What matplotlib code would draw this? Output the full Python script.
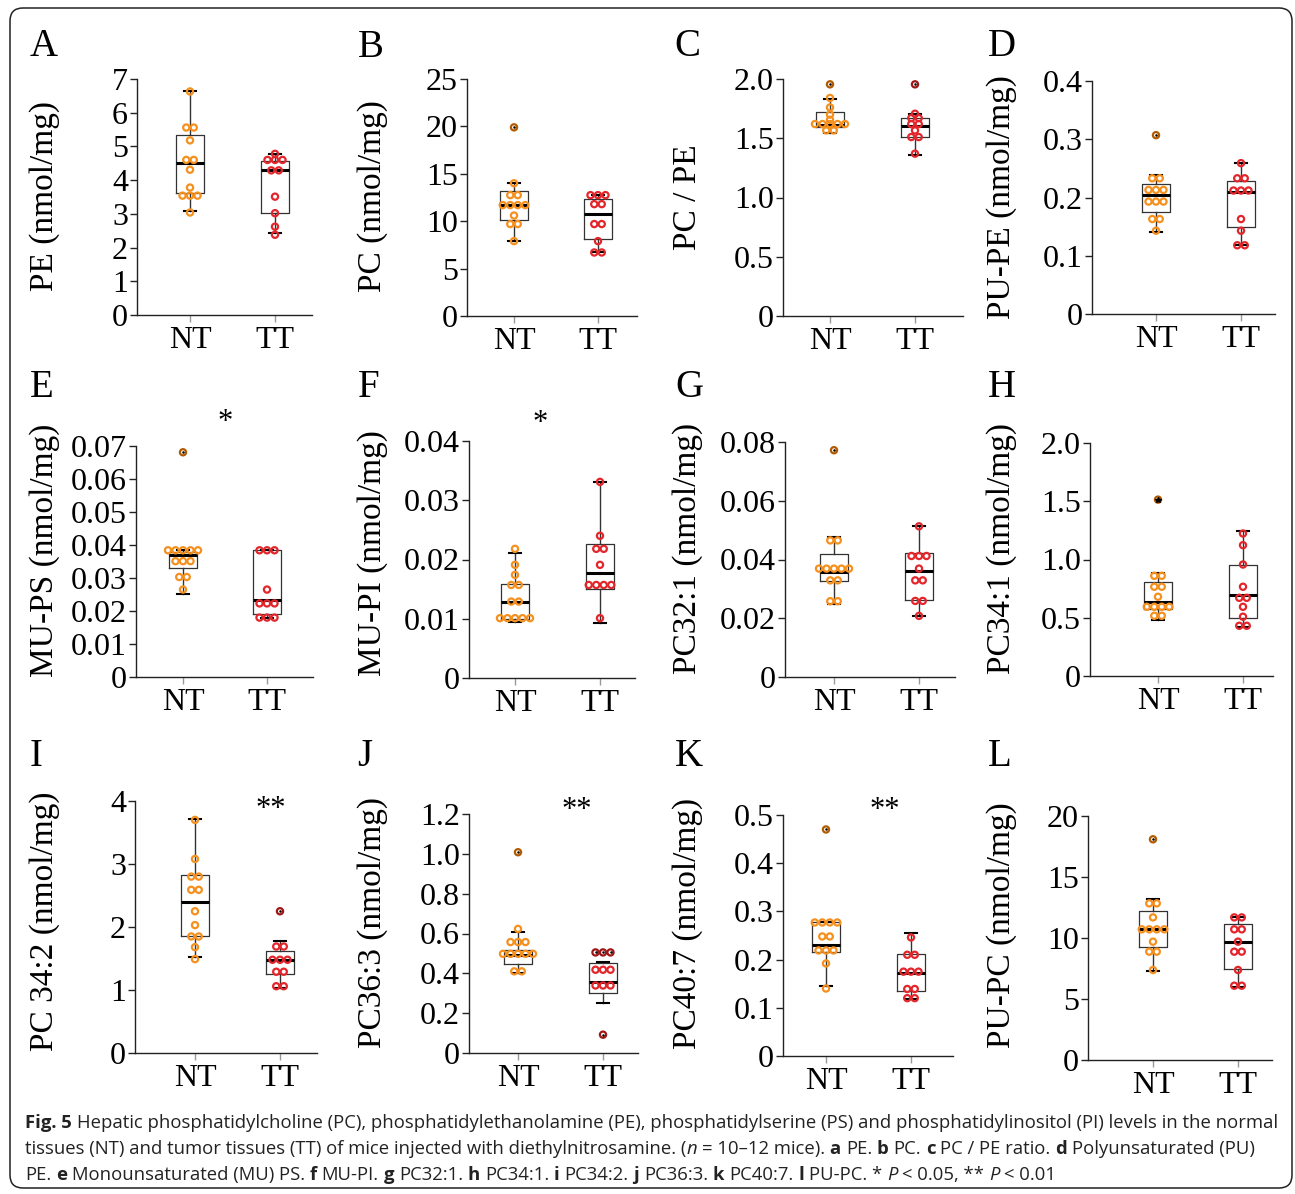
import numpy as np
import matplotlib.pyplot as plt
from matplotlib.patches import FancyBboxPatch

plt.rcParams['font.family'] = ['Liberation Serif', 'DejaVu Serif']

groups = ['NT', 'TT']
letters = list('ABCDEFGHIJKL')
ylabels = ['PE (nmol/mg)', 'PC (nmol/mg)', 'PC / PE', 'PU-PE (nmol/mg)',
           'MU-PS (nmol/mg)', 'MU-PI (nmol/mg)', 'PC32:1 (nmol/mg)', 'PC34:1 (nmol/mg)',
           'PC 34:2 (nmol/mg)', 'PC36:3 (nmol/mg)', 'PC40:7 (nmol/mg)', 'PU-PC (nmol/mg)']
ymax = [7, 25, 2.0, 0.4, 0.07, 0.04, 0.08, 2.0, 4, 1.2, 0.5, 20]
ystep = [1, 5, 0.5, 0.1, 0.01, 0.01, 0.02, 0.5, 1, 0.2, 0.1, 5]
ydec = [0, 0, 1, 1, 2, 2, 2, 1, 0, 1, 1, 0]
signif = ['', '', '', '', '*', '*', '', '', '**', '**', '**', '']
signif_x = [0, 0, 0, 0, 1.5, 1.29, 0, 0, 1.89, 1.69, 1.69, 0]
signif_y = [0, 0, 0, 0, 0.077, 0.043, 0, 0, 3.86, 1.22, 0.51, 0]

# points; box = [whisker low, q1, median, q3, whisker high]
pe_nt = [6.63, 5.56, 5.56, 5.18, 4.60, 4.60, 4.31, 3.78, 3.54, 3.54, 3.54, 3.04]
pe_tt = [4.78, 4.60, 4.60, 4.60, 4.29, 4.29, 3.51, 3.02, 2.62, 2.38]
pe_box = [[3.09, 3.61, 4.52, 5.35, 6.63], [2.43, 3.04, 4.29, 4.58, 4.78]]

pc_nt = [19.9, 14.0, 12.75, 12.75, 11.7, 11.7, 11.7, 11.7, 10.6, 9.7, 9.7, 7.9]
pc_tt = [12.75, 12.75, 12.75, 11.8, 11.8, 9.7, 9.7, 7.9, 6.7, 6.7]
pc_box = [[7.9, 10.1, 11.7, 13.2, 14.0], [6.7, 8.1, 10.8, 12.3, 12.75]]

ratio_nt = [1.955, 1.84, 1.76, 1.70, 1.656, 1.62, 1.62, 1.62, 1.62, 1.62, 1.566, 1.566]
ratio_tt = [1.955, 1.707, 1.67, 1.67, 1.62, 1.62, 1.566, 1.51, 1.51, 1.37]
ratio_box = [[1.545, 1.595, 1.61, 1.72, 1.83], [1.36, 1.51, 1.606, 1.67, 1.707]]

pupe_nt = [0.307, 0.233, 0.233, 0.213, 0.213, 0.213, 0.193, 0.193, 0.193, 0.163, 0.163, 0.143]
pupe_tt = [0.259, 0.233, 0.233, 0.212, 0.212, 0.212, 0.163, 0.143, 0.118, 0.118]
pupe_box = [[0.140, 0.175, 0.204, 0.224, 0.239], [0.118, 0.149, 0.209, 0.229, 0.259]]

mups_nt = [0.0681, 0.0384, 0.0384, 0.0384, 0.0384, 0.0384, 0.0351, 0.0351, 0.0351,
           0.0303, 0.0303, 0.0265]
mups_tt = [0.0384, 0.0384, 0.0384, 0.0265, 0.0223, 0.0223, 0.0223, 0.018, 0.018, 0.018]
mups_box = [[0.0251, 0.0329, 0.0369, 0.0379, 0.0384], [0.018, 0.0192, 0.0233, 0.0384, 0.0384]]

mupi_nt = [0.0218, 0.0191, 0.0174, 0.0157, 0.0157, 0.0129, 0.0129,
           0.0101, 0.0101, 0.0101, 0.0101, 0.0101]
mupi_tt = [0.0331, 0.024, 0.0218, 0.0218, 0.0191, 0.0157, 0.0157, 0.0157, 0.0157, 0.0101]
mupi_box = [[0.0095, 0.0099, 0.0128, 0.0158, 0.0211], [0.0093, 0.0151, 0.0177, 0.0226, 0.0331]]

pc321_nt = [0.0772, 0.0465, 0.0465, 0.0369, 0.0369, 0.0369, 0.0369, 0.0369,
            0.0329, 0.0329, 0.0258, 0.0258]
pc321_tt = [0.0513, 0.0412, 0.0412, 0.0412, 0.0369, 0.0329, 0.0329, 0.0259, 0.0259, 0.0208]
pc321_box = [[0.025, 0.0326, 0.0357, 0.042, 0.0477], [0.0208, 0.0261, 0.0361, 0.0423, 0.0513]]

pc341_nt = [1.514, 0.86, 0.86, 0.766, 0.766, 0.68, 0.594, 0.594, 0.594, 0.594, 0.517, 0.517]
pc341_tt = [1.223, 1.123, 0.957, 0.766, 0.671, 0.671, 0.594, 0.509, 0.431, 0.431]
pc341_box = [[0.48, 0.574, 0.637, 0.809, 0.88], [0.423, 0.50, 0.694, 0.957, 1.246]]

pc342_nt = [3.70, 3.08, 2.80, 2.80, 2.59, 2.59, 2.25, 2.03, 1.85, 1.85, 1.68, 1.49]
pc342_tt = [2.25, 1.69, 1.69, 1.48, 1.48, 1.48, 1.29, 1.29, 1.06, 1.06]
pc342_box = [[1.52, 1.86, 2.39, 2.82, 3.71], [1.03, 1.25, 1.47, 1.62, 1.77]]

pc363_nt = [1.008, 0.623, 0.557, 0.557, 0.557, 0.498, 0.498, 0.498, 0.498, 0.498, 0.41, 0.41]
pc363_tt = [0.505, 0.505, 0.505, 0.418, 0.418, 0.418, 0.339, 0.339, 0.339, 0.092]
pc363_box = [[0.40, 0.446, 0.493, 0.515, 0.61], [0.251, 0.301, 0.354, 0.451, 0.455]]

pc407_nt = [0.470, 0.277, 0.277, 0.277, 0.277, 0.248, 0.248, 0.219, 0.219, 0.219, 0.192, 0.140]
pc407_tt = [0.246, 0.210, 0.210, 0.175, 0.175, 0.175, 0.139, 0.139, 0.120, 0.120]
pc407_box = [[0.145, 0.215, 0.230, 0.277, 0.277], [0.118, 0.135, 0.173, 0.211, 0.256]]

pupc_nt = [18.09, 12.84, 12.84, 11.69, 10.71, 10.71, 10.71, 10.71, 9.70, 8.88, 8.88, 7.38]
pupc_tt = [11.69, 11.69, 10.71, 10.71, 9.70, 8.88, 8.88, 7.38, 6.09, 6.09]
pupc_box = [[7.32, 9.29, 10.71, 12.21, 13.2], [6.01, 7.49, 9.64, 11.12, 11.69]]

panels = [(pe_nt, pe_tt, pe_box), (pc_nt, pc_tt, pc_box), (ratio_nt, ratio_tt, ratio_box),
          (pupe_nt, pupe_tt, pupe_box), (mups_nt, mups_tt, mups_box),
          (mupi_nt, mupi_tt, mupi_box), (pc321_nt, pc321_tt, pc321_box),
          (pc341_nt, pc341_tt, pc341_box), (pc342_nt, pc342_tt, pc342_box),
          (pc363_nt, pc363_tt, pc363_box), (pc407_nt, pc407_tt, pc407_box),
          (pupc_nt, pupc_tt, pupc_box)]

# layout in pixels of the 1295x1194 picture
W, H = 1295, 1194
axes_px = [(137, 79, 312, 315), (467, 79, 637, 316), (783, 79, 963, 316), (1092, 81, 1275, 314),
           (136, 446, 313, 677), (469, 441, 635, 678), (785, 442, 955, 677), (1090, 443, 1273, 676),
           (135, 801, 317, 1053), (469, 814, 638, 1053), (783, 815, 953, 1056), (1088, 816, 1272, 1060)]
group_px = [(190, 275), (514, 598), (830, 915), (1156, 1241),
            (183, 267), (515, 600), (834, 919), (1158, 1243),
            (195, 280), (518, 603), (826, 911), (1153, 1238)]
letter_px = [(30, 56), (358, 57), (674, 56), (988, 56),
             (30, 397), (358, 397), (675, 397), (988, 397),
             (30, 766), (357, 766), (675, 766), (988, 766)]
ylabel_px = [(45, 196), (373, 196), (688, 197), (1002, 197),
             (45, 550), (373, 553), (688, 548), (1002, 548),
             (45, 921), (373, 923), (688, 923), (1002, 925)]
outlier_sym = ['.'] * 12
outlier_sym[7] = '*'

colors = ['#F5901E', '#E3262B']
dark = ['#B25A00', '#A01515']


def px_rect(l, t, r, b):
    return [l / W, 1 - b / H, (r - l) / W, (b - t) / H]


def swarm(vals, x0, dx):
    xs, ys, seen = [], [], []
    for v in vals:
        if v in seen:
            continue
        seen.append(v)
        n = vals.count(v)
        for i in range(n):
            xs.append(x0 + (i - (n - 1) / 2) * dx)
            ys.append(v)
    return np.array(xs), np.array(ys)


fig = plt.figure(figsize=(W / 100, H / 100), dpi=100)

frame = FancyBboxPatch((0.10, 0.06), 12.82, 11.80, boxstyle='round,pad=0,rounding_size=0.13',
                       transform=fig.dpi_scale_trans, fill=False, edgecolor='#222', linewidth=1.1)
fig.patches.append(frame)

for k in range(12):
    nt, tt, box = panels[k]
    l, t, r, b = axes_px[k]
    xn, xt = group_px[k]
    unit = xt - xn
    ax = fig.add_axes(px_rect(l, t, r, b))
    stats = [dict(whislo=s[0], q1=s[1], med=s[2], q3=s[3], whishi=s[4], fliers=[]) for s in box]
    ax.bxp(stats, positions=[1, 2], widths=0.33, capwidths=0.15, showfliers=False,
           manage_ticks=False,
           boxprops=dict(color='#333', linewidth=0.9),
           medianprops=dict(color='k', linewidth=2.2),
           whiskerprops=dict(color='#333', linewidth=1.0),
           capprops=dict(color='k', linewidth=1.5))
    tol = 0.03 * ymax[k]
    for gi, vals in enumerate((nt, tt)):
        xs, ys = swarm(vals, gi + 1, 7.5 / unit)
        lo, hi = box[gi][0], box[gi][4]
        out = (ys > hi + tol) | (ys < lo - tol)
        ax.scatter(xs[~out], ys[~out], s=20, facecolors='none', edgecolors=colors[gi],
                   linewidths=1.6, zorder=3)
        if out.any():
            ax.scatter(xs[out], ys[out], s=20, facecolors='none', edgecolors=dark[gi],
                       linewidths=1.6, zorder=3)
            ax.plot(xs[out], ys[out], outlier_sym[k], color='k',
                    ms=4 if outlier_sym[k] == '*' else 1.6, zorder=4)
    ax.set_xlim(1 - (xn - l) / unit, 2 + (r - xt) / unit)
    ax.set_ylim(0, ymax[k])
    n_ticks = int(round(ymax[k] / ystep[k])) + 1
    ticks = np.linspace(0, ymax[k], n_ticks)
    ax.set_yticks(ticks)
    ax.set_yticklabels(['0' if v == 0 else f'{v:.{ydec[k]}f}' for v in ticks])
    ax.set_xticks([1, 2])
    ax.set_xticklabels(groups)
    for side in ('top', 'right'):
        ax.spines[side].set_visible(False)
    for side in ('left', 'bottom'):
        ax.spines[side].set_linewidth(1.0)
        ax.spines[side].set_color('#222')
    ax.tick_params(axis='y', length=5, width=1.0, pad=1.5, labelsize=23, color='#222')
    ax.tick_params(axis='x', length=5, width=1.0, pad=3, labelsize=23, color='#999')
    ax.patch.set_visible(False)
    if signif[k]:
        ax.text(signif_x[k], signif_y[k], signif[k], ha='center', va='center', fontsize=22,
                clip_on=False)
    lx, ly = letter_px[k]
    fig.text(lx / W, 1 - ly / H, letters[k], fontsize=28, va='baseline', ha='left')
    yx, yy = ylabel_px[k]
    fig.text(yx / W, 1 - yy / H, ylabels[k], fontsize=24, rotation=90, ha='center', va='center')

# caption with bold / italic pieces
cap_fs = 13.3
line1 = [('Fig. 5', 'b'),
         (' Hepatic phosphatidylcholine (PC), phosphatidylethanolamine (PE), phosphatidylserine (PS)'
          ' and phosphatidylinositol (PI) levels in the normal', 'r')]
line2 = [('tissues (NT) and tumor tissues (TT) of mice injected with diethylnitrosamine. (', 'r'),
         ('n', 'i'), (' = 10–12 mice). ', 'r'), ('a', 'b'), (' PE. ', 'r'), ('b', 'b'),
         (' PC. ', 'r'), ('c', 'b'), (' PC / PE ratio. ', 'r'), ('d', 'b'),
         (' Polyunsaturated (PU)', 'r')]
line3 = [('PE. ', 'r'), ('e', 'b'), (' Monounsaturated (MU) PS. ', 'r'), ('f', 'b'),
         (' MU-PI. ', 'r'), ('g', 'b'), (' PC32:1. ', 'r'), ('h', 'b'), (' PC34:1. ', 'r'),
         ('i', 'b'), (' PC34:2. ', 'r'), ('j', 'b'), (' PC36:3. ', 'r'), ('k', 'b'),
         (' PC40:7. ', 'r'), ('l', 'b'), (' PU-PC. * ', 'r'), ('P', 'i'),
         (' < 0.05, ** ', 'r'), ('P', 'i'), (' < 0.01', 'r')]
cap_base = [1128, 1154, 1180]

renderer = fig.canvas.get_renderer()
space = 0.26 * cap_fs * 100 / 72
for line, base in zip((line1, line2, line3), cap_base):
    x = 25
    pending = 0
    for seg, st in line:
        if seg.startswith(' '):
            pending = 1
        txt = seg.strip()
        x += pending * space
        t = fig.text(x / W, 1 - base / H, txt, fontsize=cap_fs, family=['Open Sans', 'DejaVu Sans'],
                     weight='bold' if st == 'b' else 'normal',
                     style='italic' if st == 'i' else 'normal',
                     va='baseline', ha='left', color='#222')
        x += t.get_window_extent(renderer).width
        pending = 1 if seg.endswith(' ') else 0

fig.savefig('out.png', dpi=100)
